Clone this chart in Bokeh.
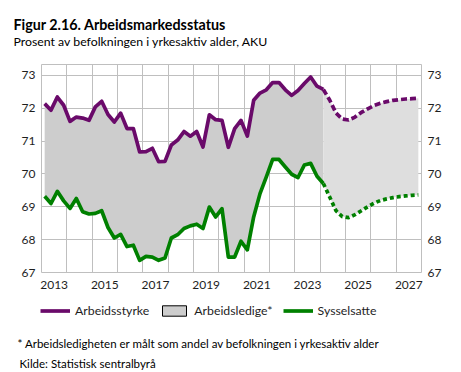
from bokeh.plotting import figure
from bokeh.layouts import column
from bokeh.models import Range1d, LinearAxis, FixedTicker, Label, Legend, LegendItem
from bokeh.embed import file_html
from bokeh.resources import INLINE

# ---------------- data (quarterly, 2013K1 - 2027K4) ----------------
start_year = 2013
end_year = 2027

arbeidsstyrke_hist = [72.14, 71.94, 72.34, 72.09, 71.60, 71.73, 71.70, 71.63,
                      72.04, 72.21, 71.81, 71.58, 71.85, 71.38, 71.38, 70.67,
                      70.68, 70.78, 70.37, 70.38, 70.88, 71.03, 71.29, 71.15,
                      71.29, 70.82, 71.80, 71.65, 71.63, 70.81, 71.38, 71.63,
                      71.15, 72.24, 72.46, 72.56, 72.78, 72.78, 72.56, 72.39,
                      72.54, 72.75, 72.95, 72.67, 72.57]
arbeidsstyrke_proj = [72.25, 71.85, 71.67, 71.64, 71.73, 71.87, 71.98, 72.08,
                      72.15, 72.20, 72.24, 72.26, 72.28, 72.29, 72.30]

sysselsatte_hist = [69.32, 69.10, 69.47, 69.18, 68.95, 69.25, 68.85, 68.78,
                    68.80, 68.88, 68.37, 68.05, 68.16, 67.79, 67.83, 67.37,
                    67.49, 67.47, 67.37, 67.44, 68.05, 68.15, 68.34, 68.42,
                    68.47, 68.34, 68.99, 68.69, 68.94, 67.47, 67.47, 67.95,
                    67.69, 68.69, 69.40, 69.91, 70.44, 70.44, 70.21, 69.99,
                    69.89, 70.27, 70.32, 69.93, 69.71]
sysselsatte_proj = [69.30, 68.88, 68.70, 68.67, 68.76, 68.88, 69.00, 69.11,
                    69.19, 69.24, 69.28, 69.31, 69.33, 69.35, 69.36]

year_labels = ["2013", "2015", "2017", "2019", "2021", "2023", "2025", "2027"]
y_ticks = [67, 68, 69, 70, 71, 72, 73]

title_text = "Figur 2.16. Arbeidsmarkedsstatus"
subtitle_text = "Prosent av befolkningen i yrkesaktiv alder, AKU"
legend_labels = ["Arbeidsstyrke", "Arbeidsledige*", "Sysselsatte"]
note_text = "* Arbeidsledigheten er målt som andel av befolkningen i yrkesaktiv alder"
source_text = "Kilde: Statistisk sentralbyrå"

# ---------------- derived positions ----------------
n_hist = len(arbeidsstyrke_hist)
n_all = n_hist + len(arbeidsstyrke_proj)
x_all = [start_year + (i + 0.5) / 4 for i in range(n_all)]
x_hist = x_all[:n_hist]
x_proj = x_all[n_hist - 1:]
as_proj = arbeidsstyrke_hist[-1:] + arbeidsstyrke_proj
ss_proj = sysselsatte_hist[-1:] + sysselsatte_proj

PURPLE = "#6a0a6a"
GREEN = "#008000"
GREY_HIST = "#cdcdcd"
GREY_PROJ = "#dedede"
FONT = "Lato"
TXT = "#1e1e1e"
W = 460


def blank(h):
    f = figure(width=W, height=h, output_backend="svg", toolbar_location=None,
               x_range=Range1d(0, 1), y_range=Range1d(0, 1),
               x_axis_type=None, y_axis_type=None, frame_align=False,
               min_border_left=0, min_border_right=0, min_border_top=0, min_border_bottom=0)
    f.outline_line_color = None
    f.grid.visible = False
    return f


# ---------------- header ----------------
head = blank(50)
head.add_layout(Label(x=13, y=26, x_units="screen", y_units="screen", text=title_text,
                      text_font=FONT, text_font_style="bold", text_font_size="14.3px",
                      text_color="black", text_baseline="alphabetic"))
head.add_layout(Label(x=13, y=9, x_units="screen", y_units="screen", text=subtitle_text,
                      text_font=FONT, text_font_size="12.3px",
                      text_color="black", text_baseline="alphabetic"))

# ---------------- main chart ----------------
p = figure(width=W, height=245, output_backend="svg", toolbar_location=None,
           x_range=Range1d(start_year, end_year + 1), y_range=Range1d(67, 73.33),
           frame_align=False,
           min_border_left=41, min_border_right=W - 421, min_border_top=14, min_border_bottom=23)
p.outline_line_color = "#bfbfbf"
p.outline_line_width = 1

p.xaxis.ticker = FixedTicker(ticks=[int(y) + 0.5 for y in year_labels])
p.xaxis.major_label_overrides = {int(y) + 0.5: y for y in year_labels}
p.yaxis.ticker = FixedTicker(ticks=y_ticks)
right = LinearAxis(ticker=FixedTicker(ticks=y_ticks))
p.add_layout(right, "right")
for ax in p.axis:
    ax.axis_line_color = None
    ax.major_tick_line_color = None
    ax.minor_tick_line_color = None
    ax.major_tick_out = 0
    ax.major_tick_in = 0
    ax.minor_tick_out = 0
    ax.major_label_text_font = FONT
    ax.major_label_text_font_size = "12px"
    ax.major_label_text_color = TXT
    ax.major_label_standoff = 6
p.xaxis.major_label_standoff = 8

p.xgrid.ticker = FixedTicker(ticks=list(range(start_year + 1, end_year + 1)))
p.ygrid.ticker = FixedTicker(ticks=y_ticks)
p.xgrid.grid_line_color = "#bfbfbf"
p.ygrid.grid_line_color = "#bfbfbf"

p.varea(x=x_hist, y1=sysselsatte_hist, y2=arbeidsstyrke_hist, fill_color=GREY_HIST)
p.varea(x=x_proj, y1=ss_proj, y2=as_proj, fill_color=GREY_PROJ)

p.line(x_hist, arbeidsstyrke_hist, line_color=PURPLE, line_width=3.7, line_join="round")
p.line(x_proj, as_proj, line_color=PURPLE, line_width=3.7, line_dash="6 3")
p.line(x_hist, sysselsatte_hist, line_color=GREEN, line_width=3.7, line_join="round")
p.line(x_proj, ss_proj, line_color=GREEN, line_width=3.7, line_dash="4 3")

# ---------------- footer: legend + notes ----------------
# legend renderers reuse the series; they fall outside this panel's ranges, so only
# their legend samples are drawn
foot = blank(76)
l_as = foot.line(x=x_hist, y=arbeidsstyrke_hist, line_color=PURPLE, line_width=3.7)
l_box = foot.rect(x=x_hist, y=sysselsatte_hist, width=0.25, height=0.1,
                  fill_color=GREY_HIST, line_color="black", line_width=1)
l_ss = foot.line(x=x_hist, y=sysselsatte_hist, line_color=GREEN, line_width=3.7)
legend = Legend(items=[LegendItem(label=legend_labels[0], renderers=[l_as]),
                       LegendItem(label=legend_labels[1], renderers=[l_box]),
                       LegendItem(label=legend_labels[2], renderers=[l_ss])],
                orientation="horizontal", location=(40, 52.7),
                border_line_color=None, background_fill_alpha=0,
                padding=0, margin=0, spacing=10,
                glyph_width=30, glyph_height=13, label_height=13, label_standoff=5,
                label_text_font=FONT, label_text_font_size="12.3px", label_text_color=TXT)
foot.add_layout(legend)
foot.add_layout(Label(x=17, y=27.7, x_units="screen", y_units="screen", text=note_text,
                      text_font=FONT, text_font_size="11.5px",
                      text_color="black", text_baseline="alphabetic"))
foot.add_layout(Label(x=19, y=7.7, x_units="screen", y_units="screen", text=source_text,
                      text_font=FONT, text_font_size="11.5px",
                      text_color="black", text_baseline="alphabetic"))

layout = column(head, p, foot, spacing=0)
open("out.html", "w").write(file_html(layout, INLINE))
